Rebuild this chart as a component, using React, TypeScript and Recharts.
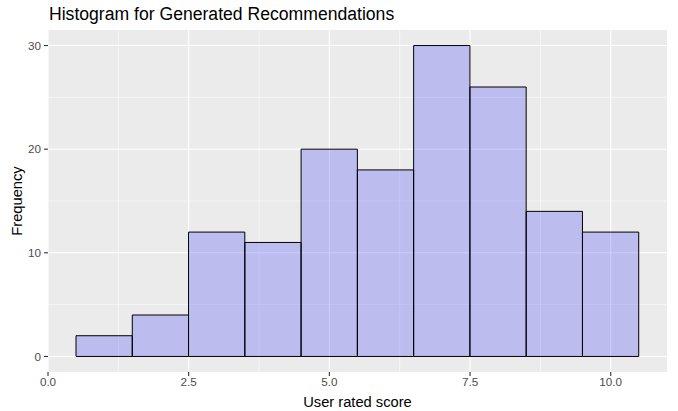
import React from "react";
import { BarChart, Bar, XAxis, YAxis, CartesianGrid, Label, Rectangle } from "recharts";

const binCenters = [1, 2, 3, 4, 5, 6, 7, 8, 9, 10];
const counts = [2, 4, 12, 11, 20, 18, 30, 26, 14, 12];
const xTicks = [0, 2.5, 5, 7.5, 10];
const xMinor = [1.25, 3.75, 6.25, 8.75];
const yTicks = [0, 10, 20, 30];
const yMinor = [5, 15, 25];
const title = "Histogram for Generated Recommendations";
const xTitle = "User rated score";
const yTitle = "Frequency";

const data = binCenters.map((x, i) => ({ x, count: counts[i] }));

const W = 678;
const H = 411;
const M = { top: 30, right: 11, left: 0, bottom: 0 };
const YW = 48;
const XH = 39;
const plotW = W - M.left - M.right - YW;
const barW = plotW / 11;
const font = "'Liberation Sans', Arial, sans-serif";

const BinShape = (props: any) => {
  const { x, y, width, height } = props;
  const cx = x + width / 2;
  return (
    <Rectangle
      x={cx - barW / 2}
      y={y}
      width={barW}
      height={height}
      fill="#0000FF"
      fillOpacity={0.2}
      stroke="#000000"
      strokeWidth={1}
    />
  );
};

export default function App() {
  return (
    <div style={{ position: "absolute", left: 0, top: 0, width: W, height: H, background: "#fff" }}>
      <div
        style={{
          position: "absolute",
          left: 49,
          top: 4,
          fontFamily: font,
          fontSize: 17.6,
          color: "#000",
          whiteSpace: "nowrap",
          lineHeight: "20px",
        }}
      >
        {title}
      </div>
      <BarChart width={W} height={H} data={data} margin={M} barGap={0} barCategoryGap={0}>
        <CartesianGrid
          fill="#EBEBEB"
          stroke="#FFFFFF"
          strokeWidth={0.55}
          horizontalValues={yMinor}
          verticalValues={xMinor}
        />
        <CartesianGrid
          stroke="#FFFFFF"
          strokeWidth={1.1}
          horizontalValues={yTicks}
          verticalValues={xTicks}
        />
        <XAxis
          dataKey="x"
          type="number"
          domain={[0, 11]}
          allowDataOverflow
          ticks={xTicks}
          tickFormatter={(v: number) => v.toFixed(1)}
          axisLine={false}
          tickLine={{ stroke: "#333333", strokeWidth: 1.1 }}
          tickSize={4}
          tickMargin={2}
          height={XH}
          tick={{ fill: "#4D4D4D", fontSize: 11.7, fontFamily: font }}
          interval={0}
        >
          <Label
            value={xTitle}
            position="insideBottom"
            offset={4}
            style={{ fill: "#000", fontSize: 14.7, fontFamily: font }}
          />
        </XAxis>
        <YAxis
          type="number"
          domain={[-1.5, 31.5]}
          allowDataOverflow
          ticks={yTicks}
          axisLine={false}
          tickLine={{ stroke: "#333333", strokeWidth: 1.1 }}
          tickSize={4}
          tickMargin={3}
          width={YW}
          tick={{ fill: "#4D4D4D", fontSize: 11.7, fontFamily: font }}
          interval={0}
        >
          <Label
            value={yTitle}
            angle={-90}
            position="insideLeft"
            offset={17}
            style={{ fill: "#000", fontSize: 14.7, fontFamily: font, textAnchor: "middle" }}
          />
        </YAxis>
        <Bar
          dataKey="count"
          shape={BinShape}
          fill="#0000FF"
          fillOpacity={0.2}
          stroke="#000000"
          isAnimationActive={false}
        />
      </BarChart>
    </div>
  );
}
